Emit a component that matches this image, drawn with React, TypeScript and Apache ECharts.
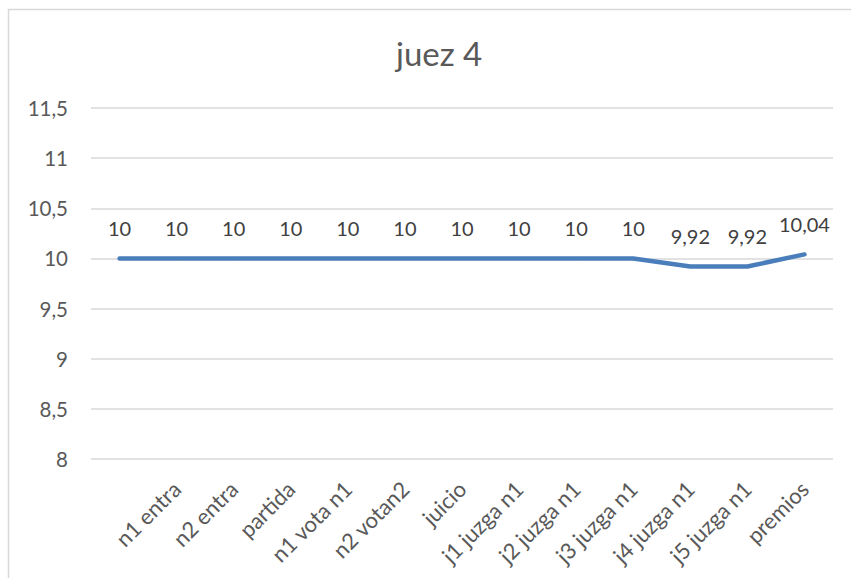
import React, { useEffect, useRef } from "react";
import * as echarts from "echarts";

const titleText = "juez 4";
const categories = [
  "",
  "n1 entra",
  "n2 entra",
  "partida",
  "n1 vota n1",
  "n2 votan2",
  "juicio",
  "j1 juzga n1",
  "j2 juzga n1",
  "j3 juzga n1",
  "j4 juzga n1",
  "j5 juzga n1",
  "premios",
];
const values = [10, 10, 10, 10, 10, 10, 10, 10, 10, 10, 9.92, 9.92, 10.04];
const yMin = 8;
const yMax = 11.5;
const yStep = 0.5;

const fmt = (v: number) => String(v).replace(".", ",");

export default function App() {
  const ref = useRef<HTMLDivElement>(null);
  useEffect(() => {
    if (!ref.current) return;
    const chart = echarts.init(ref.current, undefined, { renderer: "svg" });
    const font = "Lato, 'Open Sans', sans-serif";
    chart.setOption({
      animation: false,
      backgroundColor: "#ffffff",
      title: {
        text: titleText,
        left: 391,
        top: 31,
        textStyle: { fontFamily: font, fontSize: 33, fontWeight: "normal", color: "#595959" },
      },
      graphic: [
        { type: "line", shape: { x1: 8.5, y1: 9, x2: 8.5, y2: 578 }, style: { stroke: "#d9d9d9", lineWidth: 1.5 } },
        { type: "line", shape: { x1: 8, y1: 9.5, x2: 851, y2: 9.5 }, style: { stroke: "#d9d9d9", lineWidth: 1.5 } },
      ],
      grid: { left: 91, right: 18, top: 108, bottom: 119, containLabel: false },
      xAxis: {
        type: "category",
        data: categories,
        boundaryGap: true,
        axisLine: { show: false },
        axisTick: { show: false },
        axisLabel: {
          rotate: 45,
          interval: 0,
          margin: 26,
          fontFamily: font,
          fontSize: 22,
          color: "#595959",
        },
      },
      yAxis: {
        type: "value",
        min: yMin,
        max: yMax,
        interval: yStep,
        axisLine: { show: false },
        axisTick: { show: false },
        splitLine: { lineStyle: { color: "#d9d9d9", width: 1.5 } },
        axisLabel: {
          margin: 23,
          fontFamily: font,
          fontSize: 20.5,
          color: "#595959",
          formatter: (v: number) => fmt(v),
        },
      },
      series: [
        {
          type: "line",
          data: values,
          symbol: "circle",
          symbolSize: 1,
          itemStyle: { color: "#4a7ebb" },
          lineStyle: { color: "#4a7ebb", width: 4.5, cap: "round", join: "round" },
          label: {
            show: true,
            position: "top",
            distance: 20,
            fontFamily: font,
            fontSize: 20,
            color: "#404040",
            formatter: (p: any) => fmt(p.value),
          },
        },
      ],
    });
    return () => chart.dispose();
  }, []);
  return (
    <div
      ref={ref}
      style={{ position: "fixed", left: 0, top: 0, width: 851, height: 578 }}
    />
  );
}
